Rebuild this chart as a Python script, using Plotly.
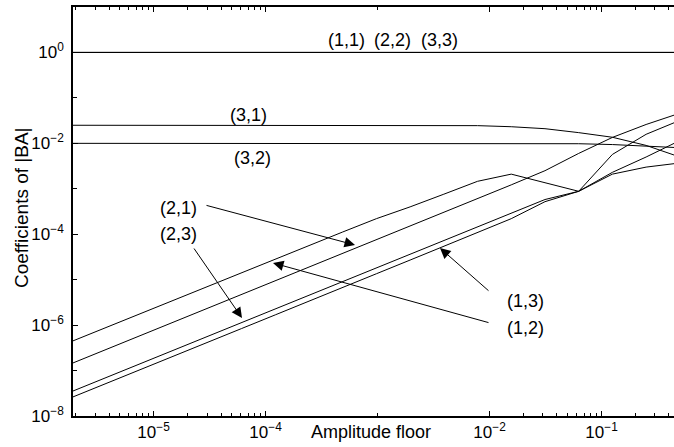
import plotly.graph_objects as go

# ---- data ----
amp_floor = [1.9073e-06, 3.8147e-06, 7.6294e-06, 1.5259e-05, 3.0518e-05, 6.1035e-05,
             1.2207e-04, 2.4414e-04, 4.8828e-04, 9.7656e-04, 1.9531e-03, 3.9063e-03,
             7.8125e-03, 1.5625e-02, 3.1250e-02, 6.2500e-02, 0.125, 0.25, 0.5]

c11 = [1.0] * 19
c22 = [1.0] * 19
c33 = [1.0] * 19
c31 = [0.025, 0.025, 0.025, 0.025, 0.025, 0.025, 0.025, 0.025, 0.025, 0.025, 0.025,
       0.0249, 0.0245, 0.0232, 0.021, 0.0172, 0.0136, 0.0090, 0.0050]
c32 = [0.01, 0.01, 0.01, 0.01, 0.01, 0.01, 0.01, 0.01, 0.01, 0.01, 0.01,
       0.01, 0.01, 0.01, 0.01, 0.0098, 0.0094, 0.0088, 0.0080]
c12 = [4.5e-7, 9.0e-7, 1.8e-6, 3.6e-6, 7.2e-6, 1.43e-5, 2.86e-5, 5.7e-5, 1.12e-4,
       2.2e-4, 4.0e-4, 7.6e-4, 1.46e-3, 2.1e-3, 1.36e-3, 8.8e-4, 5.7e-3, 0.0158, 0.032]
c21 = [1.47e-7, 2.94e-7, 5.9e-7, 1.18e-6, 2.35e-6, 4.7e-6, 9.4e-6, 1.88e-5, 3.76e-5,
       7.5e-5, 1.5e-4, 3.0e-4, 6.0e-4, 1.22e-3, 2.5e-3, 6.0e-3, 0.0135, 0.026, 0.046]
c23 = [3.55e-8, 7.1e-8, 1.42e-7, 2.84e-7, 5.7e-7, 1.14e-6, 2.27e-6, 4.5e-6, 9.1e-6,
       1.82e-5, 3.6e-5, 7.3e-5, 1.45e-4, 2.9e-4, 5.8e-4, 8.8e-4, 2.3e-3, 5.0e-3, 0.0115]
c13 = [2.63e-8, 5.3e-8, 1.05e-7, 2.1e-7, 4.2e-7, 8.4e-7, 1.68e-6, 3.4e-6, 6.7e-6,
       1.35e-5, 2.7e-5, 5.4e-5, 1.08e-4, 2.2e-4, 5.2e-4, 8.8e-4, 2.1e-3, 3.0e-3, 0.0037]

series = [("(1,1)", c11), ("(2,2)", c22), ("(3,3)", c33), ("(3,1)", c31), ("(3,2)", c32),
          ("(1,2)", c12), ("(2,1)", c21), ("(2,3)", c23), ("(1,3)", c13)]

x_major = [1e-5, 1e-4, 1e-2, 1e-1]
x_major_text = ["10<sup>−5</sup>", "10<sup>−4</sup>", "10<sup>−2</sup>", "10<sup>−1</sup>"]
x_minor = [2e-6, 3e-6, 4e-6, 5e-6, 6e-6, 7e-6, 8e-6, 9e-6,
           2e-5, 3e-5, 4e-5, 5e-5, 6e-5, 7e-5, 8e-5, 9e-5,
           1e-3,
           2e-2, 3e-2, 4e-2, 5e-2, 6e-2, 7e-2, 8e-2, 9e-2,
           2e-1, 3e-1, 4e-1]
y_major = [1e-8, 1e-6, 1e-4, 1e-2, 1e0]
y_major_text = ["10<sup>−8</sup>", "10<sup>−6</sup>", "10<sup>−4</sup>", "10<sup>−2</sup>", "10<sup>0</sup>"]
y_minor = [1e-7, 1e-5, 1e-3, 1e-1]

FONT = "Liberation Sans, Arial, Helvetica, sans-serif"
W, H = 674, 447
L, R, T, B = 73, 0, 7, 31
PW, PH = W - L - R, H - T - B


def px2paper(px, py):
    return (px - L) / PW, (H - B - py) / PH


fig = go.Figure()
for name, vals in series:
    fig.add_trace(go.Scatter(x=amp_floor, y=vals, mode="lines", name=name,
                             line=dict(color="black", width=1), showlegend=False))

annotations = []
labels = [("(2,1)", 178, 208), ("(2,3)", 178, 234), ("(1,3)", 525, 301), ("(1,2)", 525, 328),
          ("(1,1)", 346, 40), ("(2,2)", 392, 40), ("(3,3)", 439, 40),
          ("(3,1)", 248, 115), ("(3,2)", 252, 158)]
for t, px, py in labels:
    xp, yp = px2paper(px, py)
    annotations.append(dict(text=t, x=xp, y=yp, xref="paper", yref="paper",
                            showarrow=False, xanchor="center", yanchor="middle",
                            font=dict(family=FONT, size=18, color="black")))
arrows = [((355, 245), (205, 205)), ((242, 318), (193, 247)),
          ((440, 248), (490, 292)), ((273, 263), (490, 323))]
for (tx, ty), (sx, sy) in arrows:
    xp, yp = px2paper(tx, ty)
    annotations.append(dict(text="", x=xp, y=yp, xref="paper", yref="paper",
                            showarrow=True, ax=sx - tx, ay=sy - ty,
                            arrowhead=2, arrowsize=2.1, arrowwidth=1, arrowcolor="black",
                            standoff=0, startstandoff=0))
xp, yp = px2paper(371, 432)
annotations.append(dict(text="Amplitude floor", x=xp, y=yp, xref="paper", yref="paper",
                        showarrow=False, xanchor="center", yanchor="middle",
                        font=dict(family=FONT, size=18, color="black")))
xp, yp = px2paper(21, 207)
annotations.append(dict(text="Coefficients of |BA|", x=xp, y=yp, xref="paper", yref="paper",
                        showarrow=False, textangle=-90, xanchor="center", yanchor="middle",
                        font=dict(family=FONT, size=19, color="black")))

fig.update_layout(
    width=W, height=H, autosize=False,
    margin=dict(l=L, r=R, t=T, b=B, pad=0),
    paper_bgcolor="white", plot_bgcolor="white",
    font=dict(family=FONT, size=17, color="black"),
    annotations=annotations,
    xaxis=dict(type="log", range=[-5.7196, -0.353], showgrid=False, zeroline=False,
               showline=True, linecolor="black", linewidth=1.5, mirror="ticks",
               ticks="inside", ticklen=5, tickwidth=1, tickcolor="black",
               tickmode="array", tickvals=x_major, ticktext=x_major_text,
               tickfont=dict(family=FONT, size=17, color="black"),
               minor=dict(tickmode="array", tickvals=x_minor, ticks="inside",
                          ticklen=3, tickwidth=1, tickcolor="black", showgrid=False)),
    yaxis=dict(type="log", range=[-8, 1], showgrid=False, zeroline=False,
               showline=True, linecolor="black", linewidth=1.5,
               ticks="inside", ticklen=5, tickwidth=1, tickcolor="black",
               tickmode="array", tickvals=y_major, ticktext=y_major_text,
               tickfont=dict(family=FONT, size=17, color="black"),
               ticklabelstandoff=4,
               minor=dict(tickmode="array", tickvals=y_minor, ticks="inside",
                          ticklen=4, tickwidth=1, tickcolor="black", showgrid=False)),
)

fig.write_html("out.html",
               config={"displayModeBar": False},
               post_script="document.body.style.margin='0';document.body.style.overflow='hidden';")
